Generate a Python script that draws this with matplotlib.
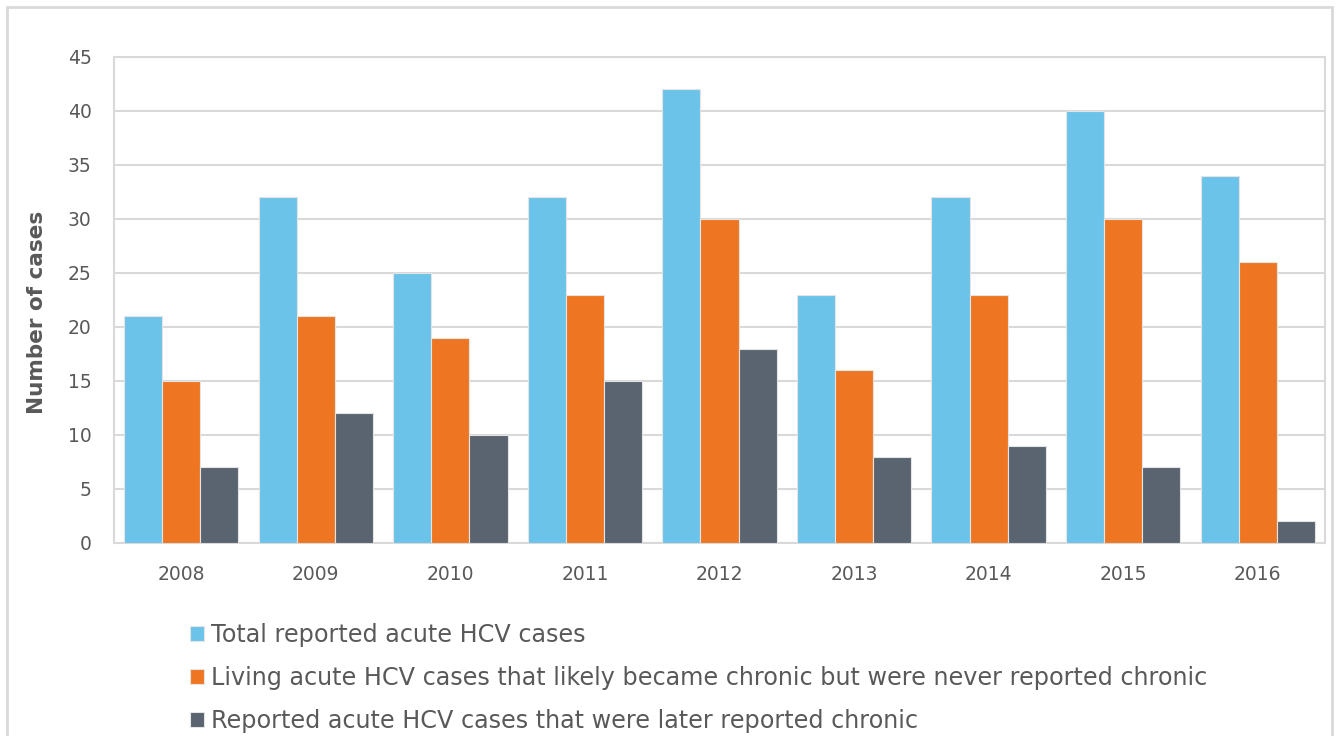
import matplotlib
matplotlib.use('Agg')
import matplotlib.pyplot as plt
from matplotlib.patches import Rectangle
import numpy as np

years = ['2008', '2009', '2010', '2011', '2012', '2013', '2014', '2015', '2016']
total_acute = [21, 32, 25, 32, 42, 23, 32, 40, 34]
living_chronic = [15, 21, 19, 23, 30, 16, 23, 30, 26]
later_chronic = [7, 12, 10, 15, 18, 8, 9, 7, 2]

series_names = ['Total reported acute HCV cases',
                'Living acute HCV cases that likely became chronic but were never reported chronic',
                'Reported acute HCV cases that were later reported chronic']
colores = ['#6cc3e9', '#ee7623', '#5a6470']

W, H = 1338, 736
fig = plt.figure(figsize=(W / 100, H / 100), dpi=100)
fig.patch.set_facecolor('white')

# borde exterior del grafico
fig.patches.append(Rectangle((7 / W, -0.05), (1332 - 7) / W, (H - 7) / H + 0.05,
                             transform=fig.transFigure, fill=False,
                             edgecolor='#d9d9d9', linewidth=2))

ax = fig.add_axes([114 / W, 1 - 543 / H, (1325 - 114) / W, (543 - 57) / H])

x = np.arange(len(years))
ancho = 0.283
datos = [total_acute, living_chronic, later_chronic]
for i, (vals, col, nombre) in enumerate(zip(datos, colores, series_names)):
    ax.bar(x + (i - 1) * ancho, vals, ancho, color=col, edgecolor='#e4e4e4',
           linewidth=0.8, label=nombre, zorder=3)

ax.set_xlim(-0.5, len(years) - 0.5)
ax.set_ylim(0, 45)
ax.set_yticks(range(0, 46, 5))
ax.set_xticks(x)
ax.set_xticklabels(years)
ax.yaxis.grid(True, color='#d9d9d9', linewidth=1.5, zorder=0)
for s in ax.spines.values():
    s.set_color('#d9d9d9')
    s.set_linewidth(1.5)
ax.tick_params(axis='both', length=0, labelsize=13.5, colors='#595959')
ax.tick_params(axis='x', pad=16)
ax.tick_params(axis='y', pad=16)
ax.set_ylabel('Number of cases', fontsize=15.5, fontweight='bold', color='#595959')
ax.yaxis.set_label_coords(-0.055, 0.475)

leg = fig.legend(loc='upper left', bbox_to_anchor=(178 / W, 1 - 611 / H), frameon=False,
                 fontsize=17.2, labelcolor='#595959', handlelength=0.6, handleheight=0.6,
                 handletextpad=0.3, labelspacing=0.79, borderpad=0)

fig.savefig('out.png', dpi=100, facecolor='white')
